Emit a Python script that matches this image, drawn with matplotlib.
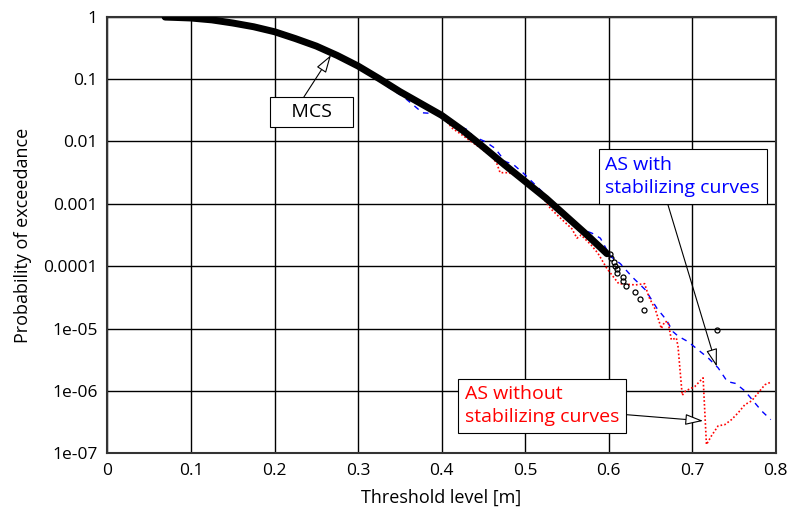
import numpy as np
from matplotlib import pyplot as plt

plt.rcParams['font.family'] = ['Open Sans', 'DejaVu Sans']

# MCS samples (dense part) - threshold [m] and log10 of exceedance probability
mcs_x = [0.069, 0.08, 0.1, 0.125, 0.15, 0.175, 0.2, 0.225, 0.25, 0.275,
         0.3, 0.325, 0.35, 0.375, 0.4, 0.425, 0.45, 0.475, 0.5, 0.525,
         0.55, 0.575, 0.598]
mcs_log10p = [-0.005, -0.01, -0.02, -0.05, -0.1, -0.16, -0.24, -0.35, -0.47, -0.62,
              -0.79, -0.99, -1.2, -1.39, -1.58, -1.82, -2.09, -2.37, -2.64, -2.91,
              -3.21, -3.51, -3.8]

# MCS samples (sparse tail)
tail_x = [0.602, 0.603, 0.606, 0.608, 0.610, 0.610, 0.617, 0.617, 0.621,
          0.632, 0.638, 0.642, 0.730]
tail_log10p = [-3.81, -3.87, -3.94, -4.0, -4.05, -4.11, -4.17, -4.24, -4.31,
               -4.41, -4.53, -4.71, -5.02]

# AS with stabilizing curves
as_stab_x = [0.335, 0.342, 0.354, 0.371, 0.377, 0.389, 0.399, 0.406, 0.421, 0.431,
             0.438, 0.452, 0.464, 0.476, 0.486, 0.498, 0.52, 0.54, 0.564, 0.58,
             0.59, 0.602, 0.614, 0.628, 0.644, 0.658, 0.669, 0.677, 0.683, 0.695,
             0.707, 0.719, 0.731, 0.742, 0.752, 0.763, 0.773, 0.783, 0.794]
as_stab_log10p = [-1.12, -1.18, -1.28, -1.47, -1.54, -1.55, -1.52, -1.60, -1.76, -1.81,
                  -1.92, -2.00, -2.11, -2.32, -2.37, -2.51, -2.80, -3.08, -3.39, -3.47,
                  -3.55, -3.84, -3.96, -4.17, -4.38, -4.68, -4.86, -5.05, -5.12, -5.21,
                  -5.34, -5.47, -5.63, -5.85, -5.88, -6.0, -6.16, -6.32, -6.46]

# AS without stabilizing curves
as_raw_x = [0.393, 0.405, 0.413, 0.425, 0.433, 0.444, 0.460, 0.466, 0.470, 0.480,
            0.492, 0.504, 0.516, 0.530, 0.540, 0.556, 0.562, 0.567, 0.579, 0.587,
            0.598, 0.612, 0.632, 0.643, 0.648, 0.656, 0.663, 0.667, 0.671, 0.675,
            0.681, 0.683, 0.688, 0.692, 0.703, 0.713, 0.717, 0.723, 0.731, 0.739,
            0.747, 0.755, 0.763, 0.771, 0.779, 0.787, 0.794]
as_raw_log10p = [-1.52, -1.66, -1.79, -1.90, -1.98, -2.08, -2.24, -2.35, -2.50, -2.50,
                 -2.56, -2.67, -2.80, -3.07, -3.20, -3.40, -3.55, -3.50, -3.66, -3.79,
                 -4.04, -4.28, -4.30, -4.28, -4.49, -4.70, -5.00, -4.89, -4.89, -5.18,
                 -5.15, -5.29, -6.07, -6.00, -5.93, -5.79, -6.86, -6.72, -6.56, -6.54,
                 -6.46, -6.35, -6.22, -6.16, -6.03, -5.90, -5.86]

y_ticks = [1e-7, 1e-6, 1e-5, 1e-4, 1e-3, 1e-2, 1e-1, 1]
y_tick_labels = ["1e-07", "1e-06", "1e-05", "0.0001", "0.001", "0.01", "0.1", "1"]
x_ticks = [0, 0.1, 0.2, 0.3, 0.4, 0.5, 0.6, 0.7, 0.8]
x_tick_labels = ["0", "0.1", "0.2", "0.3", "0.4", "0.5", "0.6", "0.7", "0.8"]

fig = plt.figure(figsize=(7.9, 5.16), dpi=100)
ax = fig.add_axes([0.136, 0.1215, 0.846, 0.846])

# curves
ax.plot(mcs_x, 10.0 ** np.array(mcs_log10p), color="black", lw=5,
        solid_capstyle="round", solid_joinstyle="round", zorder=3)
ax.plot(tail_x, 10.0 ** np.array(tail_log10p), "o", mfc="none", mec="black",
        ms=3.6, mew=0.9, zorder=3)
ax.plot(as_stab_x, 10.0 ** np.array(as_stab_log10p), color="#0000ff", lw=1.0,
        dashes=(4, 4), zorder=2)
ax.plot(as_raw_x, 10.0 ** np.array(as_raw_log10p), color="#ff0000", lw=1.2,
        dashes=(1, 1.3), zorder=2)

ax.set_yscale("log")
ax.set_xlim(0, 0.8)
ax.set_ylim(1e-7, 1)
ax.set_xticks(x_ticks)
ax.set_xticklabels(x_tick_labels)
ax.set_yticks(y_ticks)
ax.set_yticklabels(y_tick_labels)
ax.minorticks_off()
ax.tick_params(length=0, labelsize=12.5, pad=7)
ax.grid(True, color="black", lw=1.0)
ax.set_axisbelow(True)
for s in ax.spines.values():
    s.set_linewidth(1.5)
    s.set_color("#333333")

ax.set_xlabel("Threshold level [m]", fontsize=13, labelpad=7)
ax.set_ylabel("Probability of exceedance", fontsize=13, labelpad=8)

# annotations
head = "-|>,head_length=0.55,head_width=0.17"
box = dict(boxstyle="square,pad=0.3", fc="white", ec="black", lw=0.8)

ax.annotate("   MCS   ", xy=(0.2676, 10 ** -0.614), xytext=(0.244, 10 ** -1.53),
            ha="center", va="center", fontsize=14, bbox=box, zorder=5,
            arrowprops=dict(arrowstyle=head, fc="white", ec="black", lw=0.8,
                            mutation_scale=20, shrinkA=0, shrinkB=0,
                            relpos=(0.34, 1.0)))
box2 = dict(boxstyle="square,pad=0.35", fc="white", ec="black", lw=0.8)
ax.annotate("AS with\nstabilizing curves", xy=(0.7294, 10 ** -5.61),
            xytext=(0.596, 10 ** -2.56), ha="left", va="center", fontsize=14,
            color="#0000ff", bbox=box2, zorder=5, linespacing=1.35,
            arrowprops=dict(arrowstyle=head, fc="white", ec="black", lw=0.8,
                            mutation_scale=20, shrinkA=0, shrinkB=0,
                            relpos=(0.39, 0.0)))
ax.annotate("AS without\nstabilizing curves", xy=(0.713, 10 ** -6.48),
            xytext=(0.4276, 10 ** -6.24), ha="left", va="center", fontsize=14,
            color="#ff0000", bbox=box2, zorder=5, linespacing=1.35,
            arrowprops=dict(arrowstyle=head, fc="white", ec="black", lw=0.8,
                            mutation_scale=20, shrinkA=0, shrinkB=0,
                            relpos=(1.0, 0.3)))

fig.savefig("out.png", dpi=100)
